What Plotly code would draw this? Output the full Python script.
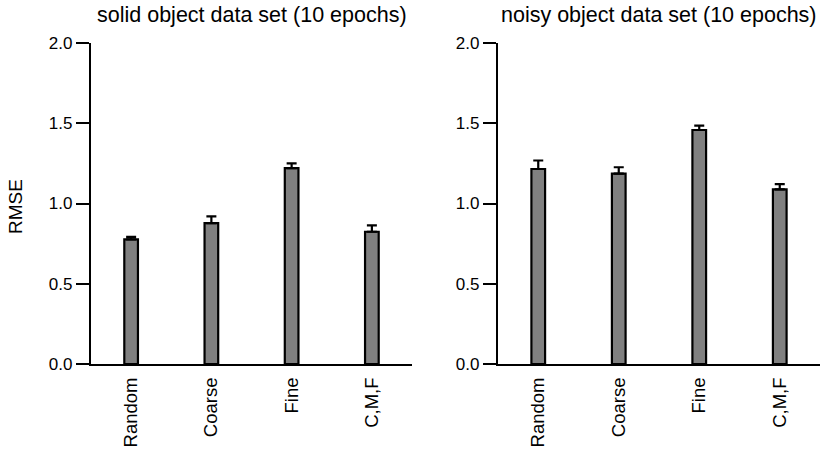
import plotly.graph_objects as go

categories = ["Random", "Coarse", "Fine", "C,M,F"]
solid_rmse = [0.777, 0.878, 1.220, 0.824]
solid_err = [0.015, 0.042, 0.030, 0.040]
noisy_rmse = [1.215, 1.186, 1.458, 1.088]
noisy_err = [0.053, 0.040, 0.027, 0.033]
titles = ["solid object data set (10 epochs)", "noisy object data set (10 epochs)"]
y_ticks = [0.0, 0.5, 1.0, 1.5, 2.0]

W, H = 829, 451
FONT = "Liberation Sans, Arial, Helvetica, sans-serif"

fig = go.Figure()
for i, (vals, errs) in enumerate([(solid_rmse, solid_err), (noisy_rmse, noisy_err)]):
    fig.add_trace(go.Bar(
        x=categories, y=vals,
        xaxis="x" if i == 0 else "x2", yaxis="y" if i == 0 else "y2",
        width=0.17,
        marker=dict(color="#808080", line=dict(color="black", width=2.2)),
        error_y=dict(type="data", array=errs, arrayminus=[0] * len(errs), symmetric=False,
                     color="black", thickness=2.2, width=5),
        showlegend=False,
    ))

xdom = [[91 / W, 412 / W], [498 / W, 820 / W]]
top, bottom = 43, 364
axis_common = dict(showline=True, linecolor="black", linewidth=2.2, showgrid=False, zeroline=False)
for i in range(2):
    sx = "" if i == 0 else "2"
    fig.layout["xaxis" + sx] = dict(
        domain=xdom[i], anchor="y" + sx, tickangle=-90, ticks="outside", ticklen=4,
        tickcolor="rgba(0,0,0,0)",
        tickfont=dict(size=18.5, color="black", family=FONT), **axis_common)
    fig.layout["yaxis" + sx] = dict(
        domain=[0, 1], anchor="x" + sx, range=[0, 2], tickvals=y_ticks,
        ticktext=[f"{v:.1f}" for v in y_ticks], ticks="outside", ticklen=13, tickwidth=2.2,
        tickcolor="black", tickfont=dict(size=17, color="black", family=FONT), **axis_common)

fig.add_annotation(text="RMSE", xref="paper", yref="paper", x=15 / W,
                   y=(bottom - 207) / (bottom - top),
                   xanchor="center", yanchor="middle", textangle=-90, showarrow=False,
                   font=dict(size=19, color="black", family=FONT))

for i in range(2):
    fig.add_annotation(text=titles[i], xref="paper", yref="paper",
                       x=(xdom[i][0] + xdom[i][1]) / 2, y=1, yshift=28,
                       xanchor="center", yanchor="middle", showarrow=False,
                       font=dict(size=21.5, color="black", family=FONT))

fig.update_layout(width=W, height=H, margin=dict(l=0, r=0, t=top, b=H - bottom, autoexpand=False),
                  plot_bgcolor="white", paper_bgcolor="white", font=dict(family=FONT, color="black"))

fig.write_html("out.html", config={"displayModeBar": False},
               post_script="document.body.style.margin='0';")
